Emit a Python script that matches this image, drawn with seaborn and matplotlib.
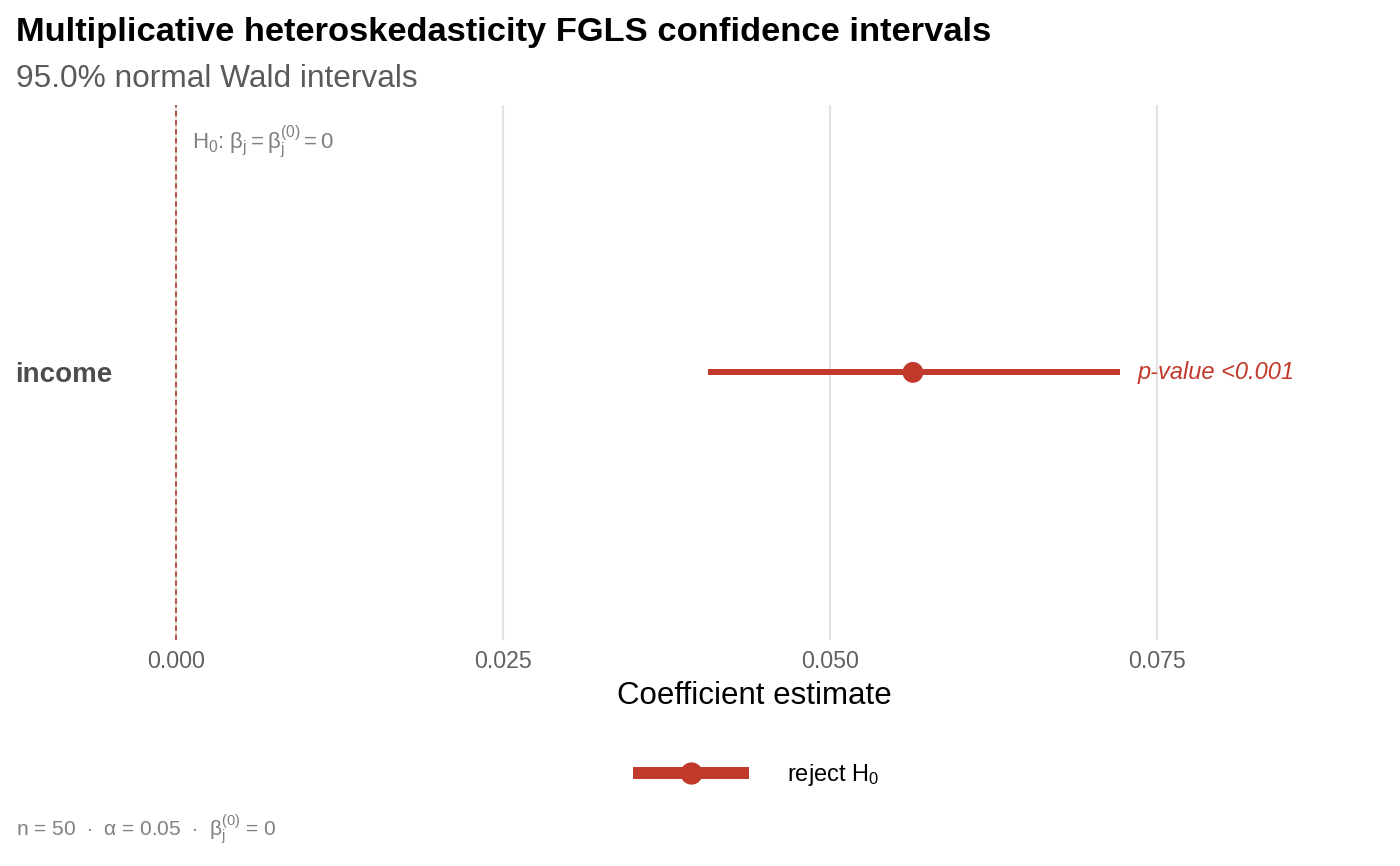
import numpy as np
import pandas as pd
import seaborn as sns
import matplotlib.pyplot as plt
from matplotlib.lines import Line2D
from matplotlib.ticker import FormatStrFormatter
import matplotlib.transforms as mtransforms

# chart values
terms = ["income"]
estimates = [0.05635]
lower = [0.04067]
upper = [0.07217]
p_labels = ["p-value <0.001"]
x_ticks = [0.000, 0.025, 0.050, 0.075]

RED = "#c0392b"

sns.set_theme(style="white")
plt.rcParams["font.family"] = ["Liberation Sans", "DejaVu Sans"]
plt.rcParams["mathtext.fontset"] = "custom"
plt.rcParams["mathtext.rm"] = "Liberation Sans"
plt.rcParams["mathtext.it"] = "Liberation Sans:italic"
plt.rcParams["mathtext.bf"] = "Liberation Sans:bold"

df = pd.DataFrame({"term": terms, "estimate": estimates,
                   "lower": lower, "upper": upper, "label": p_labels})

fig = plt.figure(figsize=(14, 8.66), dpi=100)
ax = fig.add_axes([0.089, 0.261, 0.900, 0.618])

# reference line at zero
ax.axvline(0, color="#b5473f", lw=1.3, ls=(0, (3, 2)), zorder=2)

# intervals then the estimate
ax.hlines(y=df["term"], xmin=df["lower"], xmax=df["upper"], color=RED, lw=4.3,
          capstyle="butt", zorder=3)
sns.scatterplot(data=df, x="estimate", y="term", ax=ax, color=RED, s=225,
                edgecolor="none", zorder=4, legend=False)

for _, row in df.iterrows():
    ax.annotate(row["label"], xy=(row["upper"], row["term"]), xytext=(13, 0),
                textcoords="offset points", va="center", ha="left",
                fontsize=17, color=RED, style="italic")

ax.set_xlim(-0.0039, 0.0924)
ax.set_ylim(-0.5, 0.5)
ax.set_xticks(x_ticks)
ax.xaxis.set_major_formatter(FormatStrFormatter("%.3f"))
ax.grid(axis="x", color="#e3e3e3", lw=1.6)
ax.grid(axis="y", visible=False)
ax.set_axisbelow(True)
for sp in ax.spines.values():
    sp.set_visible(False)
ax.tick_params(axis="x", length=0, pad=7, labelsize=16.7, labelcolor="#606060")
ax.tick_params(axis="y", length=0, pad=9, labelsize=20, labelcolor="#4d4d4d")
for t in ax.get_yticklabels():
    t.set_fontweight("bold")
ax.set_ylabel("")
ax.set_xlabel("Coefficient estimate", fontsize=22.5, color="black", labelpad=6)

# null hypothesis note
trans = mtransforms.blended_transform_factory(ax.transData, ax.transAxes)
ax.annotate(r"H$_0$: $\mathregular{\beta_j = \beta_j^{(0)} = 0}$", xy=(0, 0.931),
            xycoords=trans, xytext=(12, 0), textcoords="offset points",
            va="center", ha="left", fontsize=16, color="#808080")

fig.text(0.0115, 0.962, "Multiplicative heteroskedasticity FGLS confidence intervals",
         fontsize=24.8, fontweight="bold", color="black", va="center", ha="left")
fig.text(0.0115, 0.909, "95.0% normal Wald intervals",
         fontsize=22.8, color="#5a5a5a", va="center", ha="left")

handle = Line2D([], [], color=RED, lw=8.6, marker="o", markersize=16,
                markeredgewidth=0, solid_capstyle="butt")
leg = fig.legend([handle], [r"reject H$_0$"], loc="center", bbox_to_anchor=(0.54, 0.105),
                 frameon=False, fontsize=17, handlelength=4.9, handletextpad=1.6)
for t in leg.get_texts():
    t.set_color("black")

fig.text(0.0115, 0.042, r"n = 50  $\cdot$  $\mathregular{\alpha}$ = 0.05  $\cdot$  "
         r"$\mathregular{\beta_j^{(0)}}$ = 0",
         fontsize=15, color="#808080", va="center", ha="left")

fig.savefig("out.png", dpi=100)
